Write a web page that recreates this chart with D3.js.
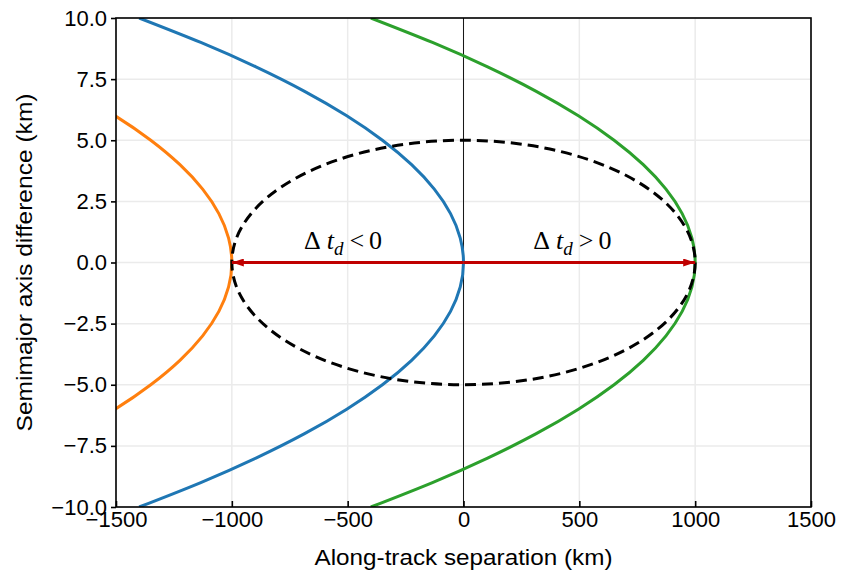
<!DOCTYPE html>
<html>
<head>
<meta charset="utf-8">
<script src="https://cdn.jsdelivr.net/npm/d3@7"></script>
<style>
  html, body { margin: 0; padding: 0; background: #fff; }
  svg { display: block; }
  text { font-family: "Liberation Sans", Arial, Helvetica, sans-serif; fill: #000; }
</style>
</head>
<body>
<svg id="chart" width="841" height="573"></svg>
<script>
// ---- data ----
const xTicks = [-1500, -1000, -500, 0, 500, 1000, 1500];
const yTicks = [-10, -7.5, -5, -2.5, 0, 2.5, 5, 7.5, 10];

// semimajor-axis samples (km) and along-track positions (km) for each curve
const ySamples = [-10, -9, -8, -7, -6, -5, -4, -3, -2, -1, 0, 1, 2, 3, 4, 5, 6, 7, 8, 9, 10];
const blueX  = [-1400, -1134, -896, -686, -504, -350, -224, -126, -56, -14, 0, -14, -56, -126, -224, -350, -504, -686, -896, -1134, -1400];
const greenX = [-400, -134, 104, 314, 496, 650, 776, 874, 944, 986, 1000, 986, 944, 874, 776, 650, 496, 314, 104, -134, -400];
const orangeY = [-7, -6, -5, -4, -3, -2, -1, 0, 1, 2, 3, 4, 5, 6, 7];
const orangeX = [-1686, -1504, -1350, -1224, -1126, -1056, -1014, -1000, -1014, -1056, -1126, -1224, -1350, -1504, -1686];

// dashed ellipse: centre and semi-axes
const ellipseCenter = [0, 0];
const ellipseRadii = [1000, 5];

// red arrows: start and end along-track positions at y = 0
const arrowStarts = [0, 0];
const arrowEnds = [-1000, 1000];
const arrowLabels = [
  {x: -520, y: 0.55, sign: "<"},
  {x: 470, y: 0.55, sign: ">"}
];

// ---- layout ----
const svg = d3.select("#chart");
const m = {left: 116, right: 811, top: 18, bottom: 507};
const x = d3.scaleLinear().domain([-1500, 1500]).range([m.left, m.right]);
const y = d3.scaleLinear().domain([-10, 10]).range([m.bottom, m.top]);

const fmtY = d => (d < 0 ? "\u2212" : "") + Math.abs(d).toFixed(1);
const fmtX = d => (d < 0 ? "\u2212" : "") + Math.abs(d);

// grid
const grid = svg.append("g");
grid.selectAll(".gx").data(xTicks).enter().append("line")
  .attr("x1", d => x(d)).attr("x2", d => x(d))
  .attr("y1", m.top).attr("y2", m.bottom)
  .attr("stroke", "#ebebeb").attr("stroke-width", 1.5);
grid.selectAll(".gy").data(yTicks).enter().append("line")
  .attr("x1", m.left).attr("x2", m.right)
  .attr("y1", d => y(d)).attr("y2", d => y(d))
  .attr("stroke", "#ebebeb").attr("stroke-width", 1.5);

// clip
svg.append("clipPath").attr("id", "clip").append("rect")
  .attr("x", m.left).attr("y", m.top)
  .attr("width", m.right - m.left).attr("height", m.bottom - m.top);
const plot = svg.append("g").attr("clip-path", "url(#clip)");

// vertical line at x=0
plot.append("line")
  .attr("x1", x(0)).attr("x2", x(0)).attr("y1", m.top).attr("y2", m.bottom)
  .attr("stroke", "#000").attr("stroke-width", 0.9);

const line = d3.line().curve(d3.curveNatural);
function drawCurve(xs, ys, color) {
  plot.append("path")
    .attr("d", line(xs.map((v, i) => [x(v), y(ys[i])])))
    .attr("fill", "none").attr("stroke", color).attr("stroke-width", 3);
}
drawCurve(orangeX, orangeY, "#ff7f0e");
drawCurve(blueX, ySamples, "#1f77b4");
drawCurve(greenX, ySamples, "#2ca02c");

// ellipse
plot.append("ellipse")
  .attr("cx", x(ellipseCenter[0])).attr("cy", y(ellipseCenter[1]))
  .attr("rx", x(ellipseRadii[0]) - x(0))
  .attr("ry", y(0) - y(ellipseRadii[1]))
  .attr("fill", "none").attr("stroke", "#000").attr("stroke-width", 3)
  .attr("stroke-dasharray", "11,6");

// arrows
const defs = svg.append("defs");
defs.append("marker").attr("id", "ah")
  .attr("viewBox", "0 0 12 8").attr("refX", 12).attr("refY", 4)
  .attr("markerWidth", 12).attr("markerHeight", 8).attr("markerUnits", "userSpaceOnUse")
  .attr("orient", "auto")
  .append("path").attr("d", "M0,0 L12,4 L0,8 Z").attr("fill", "#c00000");

arrowStarts.forEach((s, i) => {
  plot.append("line")
    .attr("x1", x(s)).attr("y1", y(0))
    .attr("x2", x(arrowEnds[i])).attr("y2", y(0))
    .attr("stroke", "#c00000").attr("stroke-width", 2.8)
    .attr("marker-end", "url(#ah)");
});

// arrow labels
arrowLabels.forEach(l => {
  const t = svg.append("text")
    .attr("x", x(l.x)).attr("y", y(l.y))
    .attr("text-anchor", "middle")
    .style("font-family", "'Liberation Serif', 'Times New Roman', serif")
    .style("font-size", "26px");
  t.append("tspan").text("\u0394");
  t.append("tspan").attr("dx", 6).style("font-style", "italic").text("t");
  t.append("tspan").attr("dy", 6).style("font-style", "italic").style("font-size", "19px").text("d");
  t.append("tspan").attr("dy", -6).attr("dx", 6).text(l.sign);
  t.append("tspan").attr("dx", 5).text("0");
});

// frame
svg.append("rect")
  .attr("x", m.left).attr("y", m.top)
  .attr("width", m.right - m.left).attr("height", m.bottom - m.top)
  .attr("fill", "none").attr("stroke", "#000").attr("stroke-width", 1.6);

// left axis (outward ticks)
const yAxis = svg.append("g").attr("transform", `translate(${m.left},0)`)
  .call(d3.axisLeft(y).tickValues(yTicks).tickFormat(fmtY).tickSize(5).tickPadding(4));
yAxis.select(".domain").remove();
yAxis.selectAll(".tick line").attr("stroke", "#000").attr("stroke-width", 1.6);
yAxis.selectAll("text").style("font-size", "22px")
  .style("font-family", "'Liberation Sans', Arial, sans-serif");

// bottom axis (inward ticks)
const xAxis = svg.append("g").attr("transform", `translate(0,${m.bottom})`)
  .call(d3.axisBottom(x).tickValues(xTicks).tickFormat(fmtX).tickSizeInner(-6).tickSizeOuter(0).tickPadding(5));
xAxis.select(".domain").remove();
xAxis.selectAll(".tick line").attr("stroke", "#000").attr("stroke-width", 1.6);
xAxis.selectAll("text").style("font-size", "22px")
  .style("font-family", "'Liberation Sans', Arial, sans-serif")
  .attr("dy", "0.68em");

// axis titles
svg.append("text")
  .attr("x", (m.left + m.right) / 2).attr("y", 565)
  .attr("text-anchor", "middle").style("font-size", "22px")
  .attr("textLength", 298).attr("lengthAdjust", "spacingAndGlyphs")
  .text("Along-track separation (km)");
svg.append("text")
  .attr("transform", `translate(32,${(m.top + m.bottom) / 2}) rotate(-90)`)
  .attr("text-anchor", "middle").style("font-size", "22px")
  .attr("textLength", 338).attr("lengthAdjust", "spacingAndGlyphs")
  .text("Semimajor axis difference (km)");
</script>
</body>
</html>
